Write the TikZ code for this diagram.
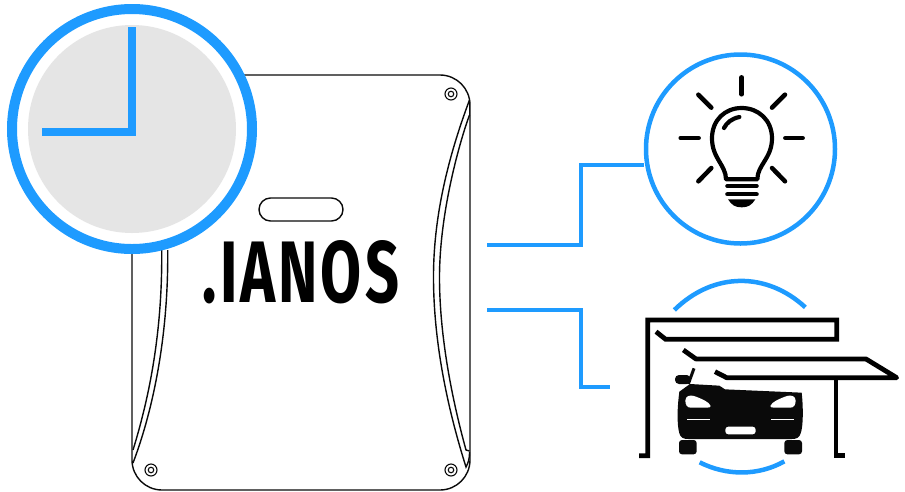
\documentclass[tikz,border=0pt]{standalone}
\usepackage{graphicx}
\usepackage{fontspec}
\newfontfamily\logofont{Fira Sans}[BoldFont={Fira Sans Bold},LetterSpace=5]
\definecolor{ablue}{HTML}{1E9BFF}
\definecolor{agray}{HTML}{E5E5E5}
\definecolor{ablack}{HTML}{0A0A0A}
\tikzset{
  outline/.style={draw=ablack,line width=1.4pt},
  link/.style={draw=ablue,line width=4.5pt,line join=miter},
  roofline/.style={draw=black,line width=4.8pt,line join=miter},
  raybar/.style={draw=black,line width=4.5pt,line cap=round},
  bulbline/.style={draw=black,line width=4.2pt,line cap=round,line join=round},
  ccarc/.style={draw=ablue,line width=4.5pt},
  screwo/.style={circle,draw=ablack,line width=1.1pt,minimum size=12pt,inner sep=0pt},
}
\begin{document}
\begin{tikzpicture}[x=1pt,y=-1pt]
\useasboundingbox (0,0) rectangle (905,491);
% housing
\node[outline,rounded corners=30pt,minimum width=338pt,minimum height=415pt,inner sep=0pt] (box) at (301,282.5) {};
\node[outline,rounded corners=11.5pt,minimum width=84pt,minimum height=23pt,inner sep=0pt] (pill) at (301,209.5) {};
\foreach \n/\x/\y in {sa/451/94,sb/151/470,sc/451/470}{
  \node[screwo] (\n) at (\x,\y) {};
  \node[circle,draw=ablack,line width=1.1pt,minimum size=5.5pt,inner sep=0pt] at (\n) {};
}
% side grooves
\draw[outline] (469.5,100) .. controls (447,160) and (433,220) .. (433.5,280)
   .. controls (434,345) and (448,410) .. (466,467) .. controls (468,463) and (469.5,460) .. (469.5,452);
\draw[outline] (469.5,115) .. controls (462,135) and (439,210) .. (439.5,280)
   .. controls (440,345) and (455,410) .. (466,450) -- (469.5,451);
\draw[outline] (469.5,100) -- (469.5,115);
\draw[outline] (167.7,250) .. controls (168.5,330) and (155,405) .. (133,463);
\draw[outline] (161.7,250) .. controls (162.5,330) and (150,395) .. (133,450);
% clock
\node[circle,fill=white,draw=ablue,line width=10pt,minimum size=240pt,inner sep=0pt] (clock) at (132,129) {};
\node[circle,fill=agray,minimum size=208pt,inner sep=0pt] (face) at (132,129) {};
\coordinate (h12) at (132,27);
\coordinate (h9) at (42,132);
\draw[draw=ablue,line width=8.5pt,line join=miter] (h12) -- (132,132) -- (h9);
% logo
\node[inner sep=0pt,anchor=center] (logo) at (301,272) {\resizebox{196pt}{62pt}{\logofont\bfseries .IANOS}};
% bulb circle
\node[circle,draw=ablue,line width=4.5pt,minimum size=189pt,inner sep=0pt] (bulb) at (740.5,149) {};
% connectors
\coordinate (o1) at (487,245);
\coordinate (o2) at (487,310);
\coordinate (i2) at (610,387);
\draw[link] (o1) -- (581,245) -- (581,165) -- (bulb.west |- 0,165);
\draw[link] (o2) -- (581,310) -- (581,387) -- (i2);
% bulb icon
\begin{scope}[shift={(640,50)},x=0.33333pt,y=-0.33333pt]
  \foreach \a/\b/\c/\d in {305/82/305/133,175/134/214/173,435/134/396/173,122/264/176/264,436/264/488/264,214/354/175/394,396/354/435/394}{
    \draw[raybar] (\a,\b) -- (\c,\d);
  }
  \draw[bulbline] (258,388) .. controls (258,345) and (216,325) .. (216,265)
     .. controls (216,210) and (255,174) .. (305,174)
     .. controls (355,174) and (396,210) .. (396,265)
     .. controls (396,325) and (352,345) .. (352,388) -- cycle;
  \draw[bulbline] (252,234) .. controls (260,218) and (275,206) .. (298,201);
  \draw[bulbline] (262,408) -- (350,408);
  \draw[bulbline] (262,433) -- (350,433);
  \fill[black] (264,448) -- (346,448) .. controls (335,465) and (325,472) .. (305,472)
     .. controls (285,472) and (275,465) .. (264,448) -- cycle;
\end{scope}
% carport icon
\begin{scope}[shift={(620,270)},x=0.33333pt,y=-0.33333pt]
  \draw[ccarc] (163,120) .. controls (280,5) and (440,5) .. (556,112);
  \draw[ccarc] (239,577) .. controls (320,618) and (415,618) .. (493,574);
  \draw[roofline] (57,557) -- (83,557) -- (83,150) -- (650,150) -- (650,208) -- (137,208) -- (108,185);
  \draw[roofline,line join=round] (190,240) -- (228,267) -- (738,267) -- (830,323) -- (320,323) -- (285,305);
  \draw[roofline] (648,323) -- (648,557) -- (676,557);
  % car
  \fill[ablack] (178,365) -- (210,342) -- (298,347) -- (315,358) -- (545,368)
     .. controls (550,410) and (550,470) .. (542,490)
     .. controls (538,503) and (530,507) .. (515,507) -- (205,507)
     .. controls (190,507) and (182,503) .. (178,490)
     .. controls (170,460) and (172,410) .. (178,365) -- cycle;
  \fill[ablack,rounded corners=4pt] (165,315) rectangle (212,342);
  \draw[draw=ablack,line width=3pt] (222,295) -- (205,342);
  \fill[ablack,rounded corners=3pt] (177,510) rectangle (230,553);
  \fill[ablack,rounded corners=3pt] (493,510) rectangle (546,553);
  \fill[white] (196,392) .. controls (196,378) and (210,374) .. (222,378)
     .. controls (245,386) and (268,396) .. (272,408)
     .. controls (272,412) and (268,413) .. (260,413) -- (212,413)
     .. controls (202,413) and (196,405) .. (196,392) -- cycle;
  \fill[white] (527,392) .. controls (527,378) and (513,374) .. (501,378)
     .. controls (478,386) and (455,396) .. (451,408)
     .. controls (451,412) and (455,413) .. (463,413) -- (511,413)
     .. controls (521,413) and (527,405) .. (527,392) -- cycle;
  \draw[draw=white,line width=1.3pt] (202,449) -- (270,449);
  \draw[draw=white,line width=1.3pt] (453,449) -- (521,449);
  \fill[white,rounded corners=3pt] (316,470) rectangle (407,493);
\end{scope}
\end{tikzpicture}
\end{document}
